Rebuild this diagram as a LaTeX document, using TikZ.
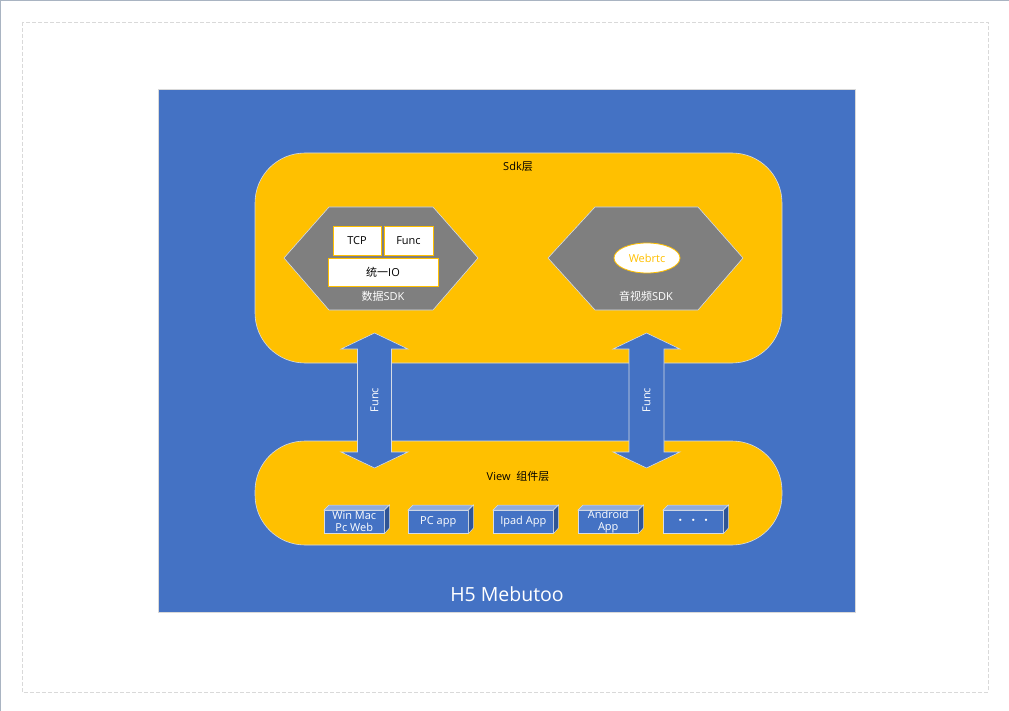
\documentclass[tikz,border=0pt]{standalone}
\usepackage{fontspec}
\setmainfont{Open Sans}
\newfontfamily\cjk{Noto Sans CJK SC}
\usetikzlibrary{shapes.geometric}
\definecolor{bgblue}{HTML}{4472C4}
\definecolor{gold}{HTML}{FFC000}
\definecolor{hexgray}{HTML}{7F7F7F}
\definecolor{framegray}{HTML}{A9B4C2}
\definecolor{pagegray}{HTML}{D9D9D9}
\definecolor{edge}{HTML}{D6DCE5}
\definecolor{cubetop}{HTML}{8FAADC}
\definecolor{cubeside}{HTML}{2F5597}
\tikzset{
  lbl/.style={font=\fontsize{11}{12}\selectfont, inner sep=0pt, align=center},
  wlbl/.style={lbl, text=white},
  innerbox/.style={draw=gold, fill=white, line width=0.8pt, inner sep=0pt, font=\fontsize{11}{12}\selectfont},
  hexshape/.style={fill=hexgray, draw=edge, line width=0.6pt},
  layer/.style={fill=gold, draw=edge, line width=0.6pt, inner sep=0pt},
  darrow/.style={fill=bgblue, draw=edge, line width=0.6pt},
  cubefront/.style={fill=bgblue, draw=edge, line width=0.5pt, minimum width=60pt, minimum height=23pt, inner sep=0pt, anchor=north west, text=white, align=center, font=\fontsize{11}{11.5}\selectfont},
}
\newcommand{\mycube}[3]{%
  \node[cubefront] (#1) at (#2,510) {#3};
  \draw[fill=cubetop, draw=edge, line width=0.5pt] (#1.north west) -- ++(5pt,5pt) -- ++(60pt,0) -- (#1.north east) -- cycle;
  \draw[fill=cubeside, draw=edge, line width=0.5pt] (#1.north east) -- ++(5pt,5pt) -- ++(0,-23pt) -- (#1.south east) -- cycle;
}
\begin{document}
\begin{tikzpicture}[x=1pt,y=-1pt]
\useasboundingbox (0,0) rectangle (1009,711);
\draw[framegray, line width=1pt] (0,0.5) -- (1009,0.5) (0.5,0) -- (0.5,711);
\draw[pagegray, line width=0.8pt, dash pattern=on 4pt off 2pt] (22,22) rectangle (988,692);
% background
\node[fill=bgblue, draw=pagegray, line width=0.6pt, minimum width=697pt, minimum height=523pt, inner sep=0pt, anchor=north west] (page) at (158,89) {};
\node[font=\fontsize{19.5}{21}\selectfont, text=white, inner sep=0pt] (title) at (507,594) {H5 Mebutoo};
% layers
\node[layer, rounded corners=50pt, minimum width=527pt, minimum height=210pt] (sdk) at (518.5,258) {};
\node[lbl] (sdklbl) at (518,167) {Sdk{\cjk 层}};
\node[layer, rounded corners=50pt, minimum width=527pt, minimum height=104pt] (view) at (518.5,493) {};
\node[lbl] (viewlbl) at (518,476) {View\ \ {\cjk 组件层}};
% left hexagon
\draw[hexshape] (284,258) -- (329,207) -- (433,207) -- (478,258) -- (433,310) -- (329,310) -- cycle;
\node[innerbox, minimum width=48pt, minimum height=29pt] (tcp) at (357,240.5) {TCP};
\node[innerbox, minimum width=49pt, minimum height=29pt] (func) at (408.5,240.5) {Func};
\node[innerbox, minimum width=110pt, minimum height=28pt] (io) at (383,272) {{\cjk 统一}IO};
\node[wlbl] (datasdk) at (383,296) {{\cjk 数据}SDK};
% right hexagon
\draw[hexshape] (548,258) -- (595,207) -- (698,207) -- (743,258) -- (698,310) -- (595,310) -- cycle;
\node[ellipse, draw=gold, fill=white, line width=0.8pt, minimum width=66pt, minimum height=30pt, inner sep=0pt, text=gold, font=\fontsize{11}{12}\selectfont] (webrtc) at (647,258) {Webrtc};
\node[wlbl] (avsdk) at (646,296) {{\cjk 音视频}SDK};
% double arrows
\draw[darrow] (374.5,333) -- (408,349) -- (391.5,349) -- (391.5,452) -- (408,452) -- (374.5,468) -- (341,452) -- (357.5,452) -- (357.5,349) -- (341,349) -- cycle;
\node[wlbl, rotate=90] (f1) at (374.5,400) {Func};
\draw[darrow] (646.5,333) -- (680,349) -- (664,349) -- (664,452) -- (680,452) -- (646.5,468) -- (613,452) -- (629,452) -- (629,349) -- (613,349) -- cycle;
\node[wlbl, rotate=90] (f2) at (646.5,400) {Func};
% cubes
\mycube{c1}{324}{Win Mac\\Pc Web}
\mycube{c2}{408}{PC app}
\mycube{c3}{493}{Ipad App}
\mycube{c4}{578}{Android\\App}
\mycube{c5}{663}{{\cjk ・\,・\,・}}
\end{tikzpicture}
\end{document}
